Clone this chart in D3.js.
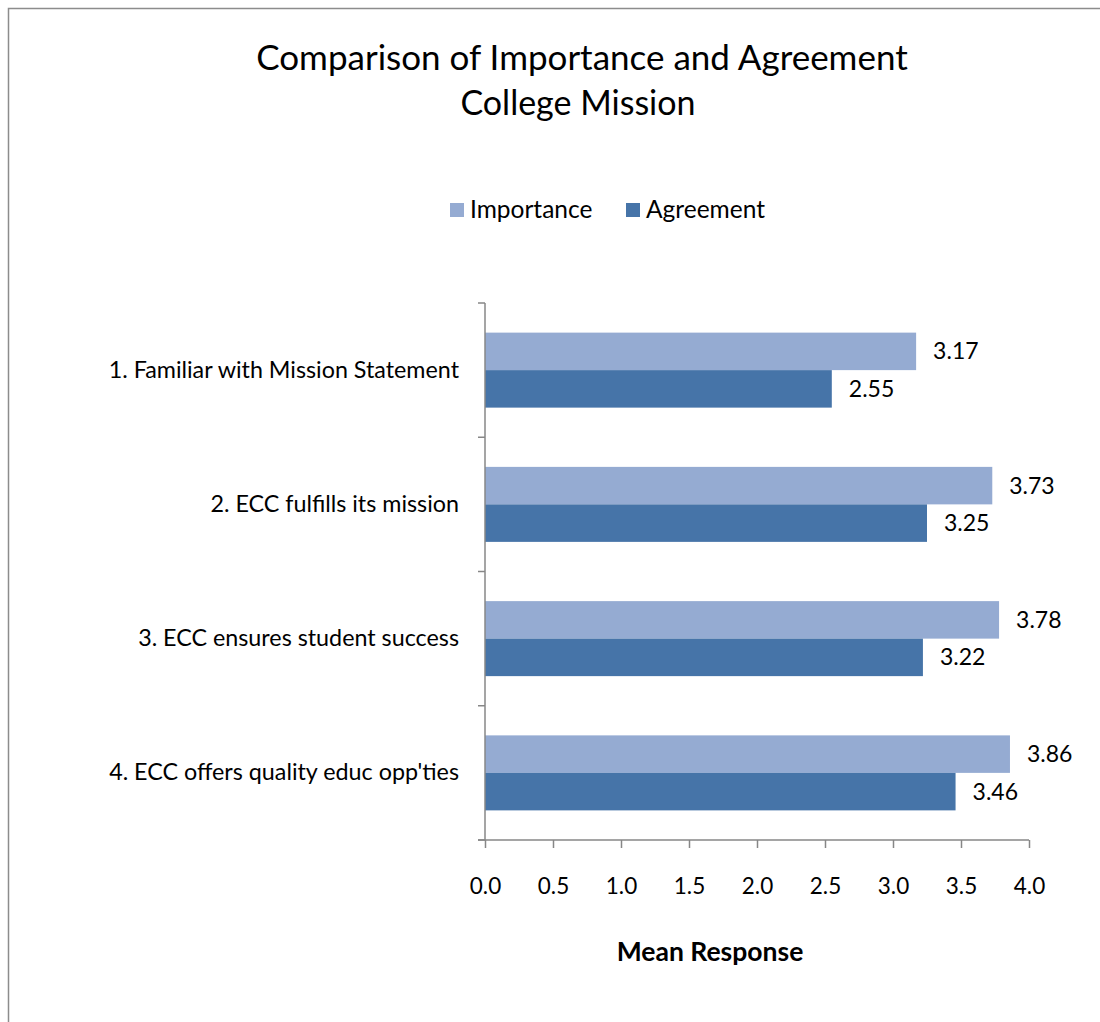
<!DOCTYPE html>
<html>
<head>
<meta charset="utf-8">
<script src="https://cdn.jsdelivr.net/npm/d3@7"></script>
<style>
  body { margin: 0; background: #fff; }
  svg { display: block; font-family: Lato, "Open Sans", sans-serif; }
</style>
</head>
<body>
<svg width="1100" height="1022"></svg>
<script>
// chart data
const categories = [
  "1. Familiar with Mission Statement",
  "2. ECC fulfills its mission",
  "3. ECC ensures student success",
  "4. ECC offers quality educ opp'ties"
];
const seriesNames = ["Importance", "Agreement"];
const importance = [3.17, 3.73, 3.78, 3.86];
const agreement = [2.55, 3.25, 3.22, 3.46];
const xTicks = [0, 0.5, 1, 1.5, 2, 2.5, 3, 3.5, 4];

const colors = { Importance: "#95abd2", Agreement: "#4674a8" };
const axisColor = "#878787";

const svg = d3.select("svg");

// outer frame
svg.append("rect")
  .attr("x", 8.5).attr("y", 8.5)
  .attr("width", 1200).attr("height", 1200)
  .attr("fill", "none")
  .attr("stroke", "#8c8c8c")
  .attr("stroke-width", 1.5);

// title
svg.append("text")
  .attr("x", 582).attr("y", 70)
  .attr("text-anchor", "middle")
  .style("font-size", "35px")
  .text("Comparison of Importance and Agreement");
svg.append("text")
  .attr("x", 578).attr("y", 115)
  .attr("text-anchor", "middle")
  .style("font-size", "34px")
  .text("College Mission");

// legend
let legendX = [450, 626];
seriesNames.forEach((name, i) => {
  svg.append("rect")
    .attr("x", legendX[i]).attr("y", 203)
    .attr("width", 14).attr("height", 14)
    .attr("fill", colors[name]);
  svg.append("text")
    .attr("x", legendX[i] + 20).attr("y", 218)
    .style("font-size", "24.5px")
    .text(name);
});

const plotL = 485, plotR = 1029, plotT = 303, plotB = 840;

const x = d3.scaleLinear().domain([0, 4]).range([plotL, plotR]);
const y = d3.scaleBand().domain(categories).range([plotT, plotB]);

const rows = categories.map((c, i) => ({ cat: c, Importance: importance[i], Agreement: agreement[i] }));
const barH = 37.5;

// bars
const groups = svg.append("g").selectAll("g")
  .data(rows).enter().append("g")
  .attr("transform", d => `translate(0,${y(d.cat) + y.bandwidth() / 2 - barH})`);

seriesNames.forEach((name, i) => {
  groups.append("rect")
    .attr("x", x(0))
    .attr("y", i * barH)
    .attr("width", d => x(d[name]) - x(0))
    .attr("height", barH)
    .attr("fill", colors[name]);
  groups.append("text")
    .attr("x", d => x(d[name]) + 17)
    .attr("y", i * barH + barH / 2 + 8)
    .style("font-size", "23px")
    .text(d => d[name].toFixed(2));
});

// x axis
const xAxis = svg.append("g")
  .attr("transform", `translate(0,${plotB})`)
  .call(d3.axisBottom(x).tickValues(xTicks).tickFormat(d3.format(".1f")).tickSize(8).tickPadding(30));
xAxis.selectAll("line, path").attr("stroke", axisColor).attr("stroke-width", 1.5);
xAxis.select(".domain").attr("d", `M${plotL - 7},0H${plotR}`);
xAxis.selectAll("text").style("font-size", "22.5px").attr("fill", "#000").style("font-family", "Lato, sans-serif");

// y axis
const yAxis = svg.append("g")
  .attr("transform", `translate(${plotL},0)`)
  .call(d3.axisLeft(y).tickSize(0).tickPadding(26));
yAxis.select(".domain").attr("d", `M0,${plotT}V${plotB}`).attr("stroke", axisColor).attr("stroke-width", 1.5);
yAxis.selectAll("text").style("font-size", "23.3px").attr("fill", "#000").style("font-family", "Lato, sans-serif");

// category boundary ticks
const bounds = categories.map(c => y(c)).concat([plotB]);
svg.append("g").selectAll("line")
  .data(bounds).enter().append("line")
  .attr("x1", plotL - 7).attr("x2", plotL)
  .attr("y1", d => d).attr("y2", d => d)
  .attr("stroke", axisColor).attr("stroke-width", 1.5);

// axis title
svg.append("text")
  .attr("x", 710).attr("y", 961)
  .attr("text-anchor", "middle")
  .style("font-size", "26.5px")
  .style("font-weight", "bold")
  .text("Mean Response");
</script>
</body>
</html>
